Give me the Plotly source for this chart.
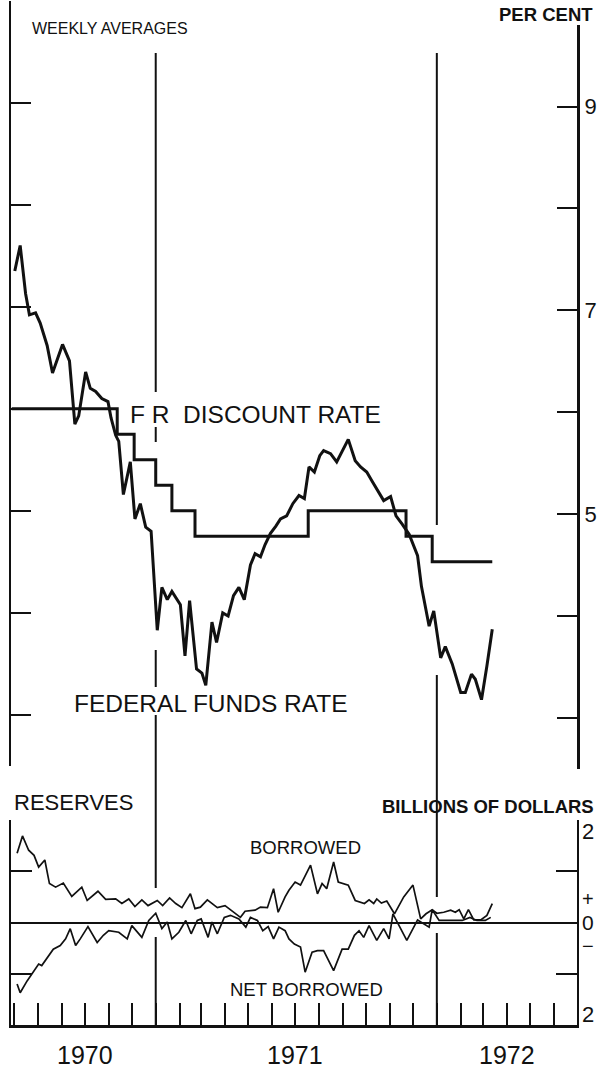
import plotly.graph_objects as go

# ---------------- data ----------------
ff_dates = ["1970-07-02", "1970-07-09", "1970-07-16", "1970-07-21", "1970-07-29", "1970-08-04",
            "1970-08-13", "1970-08-20", "1970-09-02", "1970-09-11", "1970-09-18", "1970-09-23",
            "1970-10-02", "1970-10-08", "1970-10-15", "1970-10-23", "1970-10-31", "1970-11-04",
            "1970-11-10", "1970-11-14", "1970-11-20", "1970-11-29", "1970-12-05", "1970-12-12",
            "1970-12-19", "1970-12-26", "1971-01-03", "1971-01-09", "1971-01-16", "1971-01-22",
            "1971-02-02", "1971-02-08", "1971-02-14", "1971-02-23", "1971-03-02", "1971-03-07",
            "1971-03-15", "1971-03-21", "1971-03-29", "1971-04-05", "1971-04-12", "1971-04-19",
            "1971-04-26", "1971-05-04", "1971-05-10", "1971-05-17", "1971-05-23", "1971-05-30",
            "1971-06-06", "1971-06-12", "1971-06-20", "1971-06-28", "1971-07-06", "1971-07-13",
            "1971-07-19", "1971-07-26", "1971-08-02", "1971-08-07", "1971-08-16", "1971-08-24",
            "1971-09-08", "1971-09-17", "1971-09-24", "1971-10-02", "1971-10-09", "1971-10-18",
            "1971-10-24", "1971-11-02", "1971-11-09", "1971-11-17", "1971-11-26", "1971-12-07",
            "1971-12-12", "1971-12-22", "1971-12-28", "1972-01-06", "1972-01-12", "1972-01-21",
            "1972-02-01", "1972-02-07", "1972-02-15", "1972-02-20", "1972-02-28", "1972-03-06",
            "1972-03-13"]
ff_rate = [7.35, 7.60, 7.13, 6.92, 6.94, 6.84, 6.62, 6.35, 6.63, 6.47, 5.85, 5.93,
           6.36, 6.20, 6.17, 6.10, 6.07, 5.91, 5.74, 5.68, 5.16, 5.48, 4.92, 5.07,
           4.84, 4.80, 3.83, 4.25, 4.13, 4.21, 4.08, 3.58, 4.12, 3.45, 3.41, 3.29,
           3.91, 3.71, 4.00, 3.97, 4.17, 4.25, 4.13, 4.47, 4.58, 4.55, 4.67, 4.78,
           4.85, 4.92, 4.95, 5.07, 5.15, 5.12, 5.43, 5.38, 5.54, 5.59, 5.56, 5.48,
           5.70, 5.49, 5.43, 5.38, 5.29, 5.17, 5.10, 5.14, 4.95, 4.87, 4.77, 4.56,
           4.26, 3.87, 4.02, 3.56, 3.67, 3.50, 3.22, 3.22, 3.40, 3.35, 3.15, 3.48,
           3.84]

dr_dates = ["1970-06-28", "1970-11-12", "1970-12-04", "1971-01-01", "1971-01-22", "1971-02-21",
            "1971-07-18", "1971-11-22", "1971-12-26", "1972-03-13"]
dr_rate = [6.00, 5.75, 5.50, 5.25, 5.00, 4.75, 5.00, 4.75, 4.50, 4.50]

bor_dates = ["1970-07-05", "1970-07-12", "1970-07-20", "1970-07-27", "1970-08-02", "1970-08-10",
             "1970-08-16", "1970-08-24", "1970-09-03", "1970-09-14", "1970-09-27", "1970-10-04",
             "1970-10-18", "1970-10-28", "1970-11-10", "1970-11-18", "1970-11-27", "1970-12-05",
             "1970-12-14", "1970-12-22", "1971-01-03", "1971-01-10", "1971-01-19", "1971-01-27",
             "1971-02-04", "1971-02-15", "1971-02-21", "1971-02-28", "1971-03-09", "1971-03-22",
             "1971-04-01", "1971-04-21", "1971-04-27", "1971-05-10", "1971-05-17", "1971-05-26",
             "1971-06-03", "1971-06-09", "1971-06-18", "1971-06-23", "1971-07-01", "1971-07-08",
             "1971-07-21", "1971-07-30", "1971-08-05", "1971-08-11", "1971-08-20", "1971-08-26",
             "1971-09-08", "1971-09-17", "1971-09-29", "1971-10-05", "1971-10-11", "1971-10-15",
             "1971-10-21", "1971-10-28", "1971-11-07", "1971-11-19", "1971-12-01", "1971-12-11",
             "1971-12-18", "1971-12-26", "1972-01-01", "1972-01-10", "1972-01-19", "1972-01-25",
             "1972-01-30", "1972-02-05", "1972-02-11", "1972-02-18", "1972-02-27", "1972-03-06",
             "1972-03-13"]
bor_vals = [1.35, 1.69, 1.41, 1.31, 1.08, 1.22, 0.76, 0.69, 0.77, 0.51, 0.69, 0.43,
            0.61, 0.45, 0.46, 0.37, 0.46, 0.31, 0.44, 0.33, 0.43, 0.33, 0.48, 0.37,
            0.29, 0.56, 0.27, 0.30, 0.44, 0.29, 0.33, 0.10, 0.22, 0.24, 0.30, 0.29,
            0.66, 0.20, 0.50, 0.63, 0.79, 0.73, 1.12, 0.56, 0.76, 0.66, 1.18, 0.79,
            0.73, 0.43, 0.37, 0.44, 0.37, 0.46, 0.38, 0.42, 0.17, 0.50, 0.73, 0.07,
            0.17, 0.25, 0.18, 0.20, 0.24, 0.20, 0.25, 0.07, 0.25, 0.05, 0.05, 0.14,
            0.37]

nb_dates = ["1970-07-05", "1970-07-09", "1970-07-18", "1970-07-27", "1970-08-02", "1970-08-06",
            "1970-08-15", "1970-08-21", "1970-08-30", "1970-09-06", "1970-09-12", "1970-09-19",
            "1970-09-25", "1970-10-05", "1970-10-17", "1970-10-25", "1970-11-01", "1970-11-14",
            "1970-11-25", "1970-12-01", "1970-12-14", "1970-12-23", "1971-01-01", "1971-01-09",
            "1971-01-16", "1971-01-22", "1971-01-31", "1971-02-09", "1971-02-16", "1971-02-24",
            "1971-03-01", "1971-03-10", "1971-03-15", "1971-03-22", "1971-03-31", "1971-04-08",
            "1971-04-19", "1971-04-28", "1971-05-04", "1971-05-13", "1971-05-20", "1971-05-27",
            "1971-06-03", "1971-06-10", "1971-06-18", "1971-06-23", "1971-06-30", "1971-07-08",
            "1971-07-14", "1971-07-23", "1971-07-30", "1971-08-07", "1971-08-20", "1971-08-31",
            "1971-09-08", "1971-09-16", "1971-09-22", "1971-09-28", "1971-10-05", "1971-10-15",
            "1971-10-24", "1971-10-31", "1971-11-05", "1971-11-13", "1971-11-23", "1971-12-07",
            "1971-12-22", "1971-12-26", "1972-01-04", "1972-01-17", "1972-02-03", "1972-02-13",
            "1972-02-22", "1972-03-04", "1972-03-11"]
nb_vals = [-1.20, -1.37, -1.14, -0.94, -0.81, -0.84, -0.65, -0.52, -0.45, -0.32, -0.12, -0.45,
           -0.32, -0.08, -0.39, -0.25, -0.16, -0.19, -0.32, -0.06, -0.29, 0.04, 0.18, -0.12,
           0.01, -0.32, -0.19, 0.04, -0.22, 0.04, 0.07, -0.29, 0.01, -0.22, 0.10, 0.14,
           0.07, -0.09, 0.10, 0.04, -0.16, -0.08, -0.32, -0.09, -0.16, -0.32, -0.42, -0.48,
           -0.97, -0.58, -0.55, -0.55, -0.94, -0.52, -0.52, -0.25, -0.16, -0.29, -0.06, -0.35,
           -0.12, -0.32, 0.17, -0.06, -0.35, 0.05, -0.09, 0.25, 0.04, 0.04, 0.04, 0.10,
           0.04, 0.04, 0.10]

year_labels = ["1970", "1971", "1972"]
year_label_dates = ["1970-10-01", "1971-07-01", "1972-04-01"]
year_lines = ["1971-01-01", "1972-01-01"]

pct_tickvals = [2.5, 3, 4, 5, 6, 7, 8, 9]
pct_ticktext = ["", "", "", "5", "", "7", "", "9"]

# ---------------- layout helpers ----------------
W, H = 601, 1070
def py(p):
    return 1 - p / H
def pxx(p):
    return p / W

FONT = "Liberation Sans, Arial, sans-serif"
INK = "#111111"
X_RANGE = ["1970-06-27 02:00", "1972-07-01"]
X_DOMAIN = [pxx(11), pxx(577)]

fig = go.Figure()
fig.add_trace(go.Scatter(x=ff_dates, y=ff_rate, mode="lines", xaxis="x", yaxis="y",
                         line=dict(color=INK, width=3)))
fig.add_trace(go.Scatter(x=dr_dates, y=dr_rate, mode="lines", xaxis="x", yaxis="y",
                         line=dict(color=INK, width=3, shape="hv")))
fig.add_trace(go.Scatter(x=[], y=[], mode="lines", xaxis="x", yaxis="y3"))
fig.add_trace(go.Scatter(x=bor_dates, y=bor_vals, mode="lines", xaxis="x2", yaxis="y2",
                         line=dict(color=INK, width=1.7)))
fig.add_trace(go.Scatter(x=nb_dates, y=nb_vals, mode="lines", xaxis="x2", yaxis="y2",
                         line=dict(color=INK, width=1.7)))

shapes = []
segs = [
    [(53, 392), (427, 442), (650, 687), (715, 888), (937, 1025)],
    [(53, 525), (675, 897), (933, 1025)],
]
for d, ss in zip(year_lines, segs):
    for a, b in ss:
        shapes.append(dict(type="line", xref="x", yref="paper", x0=d, x1=d,
                           y0=py(a), y1=py(b), line=dict(color=INK, width=2)))

ann = []
def text(t, x, y, size, xanchor="left", bold=False, xref="paper"):
    ann.append(dict(text=("<b>%s</b>" % t) if bold else t, x=x, y=y, xref=xref, yref="paper",
                    xanchor=xanchor, yanchor="middle", showarrow=False,
                    font=dict(family=FONT, size=size, color=INK)))

text("WEEKLY AVERAGES", pxx(30), py(29), 16)
text("PER CENT", pxx(595), py(14), 18.5, xanchor="right", bold=True)
text("F R\u00a0\u00a0DISCOUNT RATE", pxx(128), py(414), 24.5)
text("FEDERAL FUNDS RATE", pxx(72), py(703), 24.5)
text("RESERVES", pxx(12), py(802), 22)
text("BILLIONS OF DOLLARS", pxx(596), py(806), 18.5, xanchor="right", bold=True)
text("BORROWED", pxx(248), py(847), 18.5)
text("NET BORROWED", pxx(228), py(989), 18.5)
for lab, d in zip(year_labels, year_label_dates):
    text(lab, d, py(1055), 25, xanchor="center", xref="x2")
text("2", pxx(588), py(831), 22, xanchor="center")
text("+", pxx(588), py(899), 20, xanchor="center")
text("0", pxx(588), py(922), 21, xanchor="center")
text("\u2212", pxx(588), py(946), 20, xanchor="center")
text("2", pxx(588), py(1014), 22, xanchor="center")

common_x = dict(domain=X_DOMAIN, range=X_RANGE, type="date", showgrid=False, zeroline=False,
                showticklabels=False)

fig.update_layout(
    width=W, height=H, margin=dict(l=0, r=0, t=0, b=0),
    paper_bgcolor="white", plot_bgcolor="rgba(0,0,0,0)", showlegend=False,
    xaxis=dict(**common_x, anchor="y", showline=False, ticks=""),
    yaxis=dict(domain=[py(766), py(0.5)], range=[2.5, 10], anchor="x", side="left",
               showline=True, linewidth=2, linecolor=INK, ticks="inside", ticklen=20,
               tickwidth=1.5, tickcolor=INK, tickvals=[2.5, 3, 4, 5, 6, 7, 8, 9, 10],
               showticklabels=False, showgrid=False, zeroline=False),
    yaxis3=dict(domain=[py(769), py(25)], range=[2.5, 9.8], anchor="x", side="right",
                showline=True, linewidth=3, linecolor=INK, ticks="inside", ticklen=20,
                tickwidth=1.5, tickcolor=INK, tickvals=pct_tickvals, ticktext=pct_ticktext,
                tickfont=dict(family=FONT, size=22, color=INK),
                showgrid=False, zeroline=False),
    xaxis2=dict(**common_x, anchor="y2", showline=True, linewidth=3, linecolor=INK,
                ticks="inside", ticklen=22, tickwidth=2, tickcolor=INK,
                tickmode="linear", tick0="1970-07-01", dtick="M1"),
    yaxis2=dict(domain=[py(1025), py(820)], range=[-2, 2], anchor="x2", side="left",
                showline=True, linewidth=2, linecolor=INK, mirror="ticks", ticks="inside",
                ticklen=21, tickwidth=1.5, tickcolor=INK, tickvals=[-1, 1, 2],
                showticklabels=False, showgrid=False,
                zeroline=True, zerolinewidth=2, zerolinecolor=INK),
    shapes=shapes, annotations=ann,
)

fig.write_html("out.html", config={"displayModeBar": False},
               post_script="document.body.style.margin='0';document.body.style.overflow='hidden';")
